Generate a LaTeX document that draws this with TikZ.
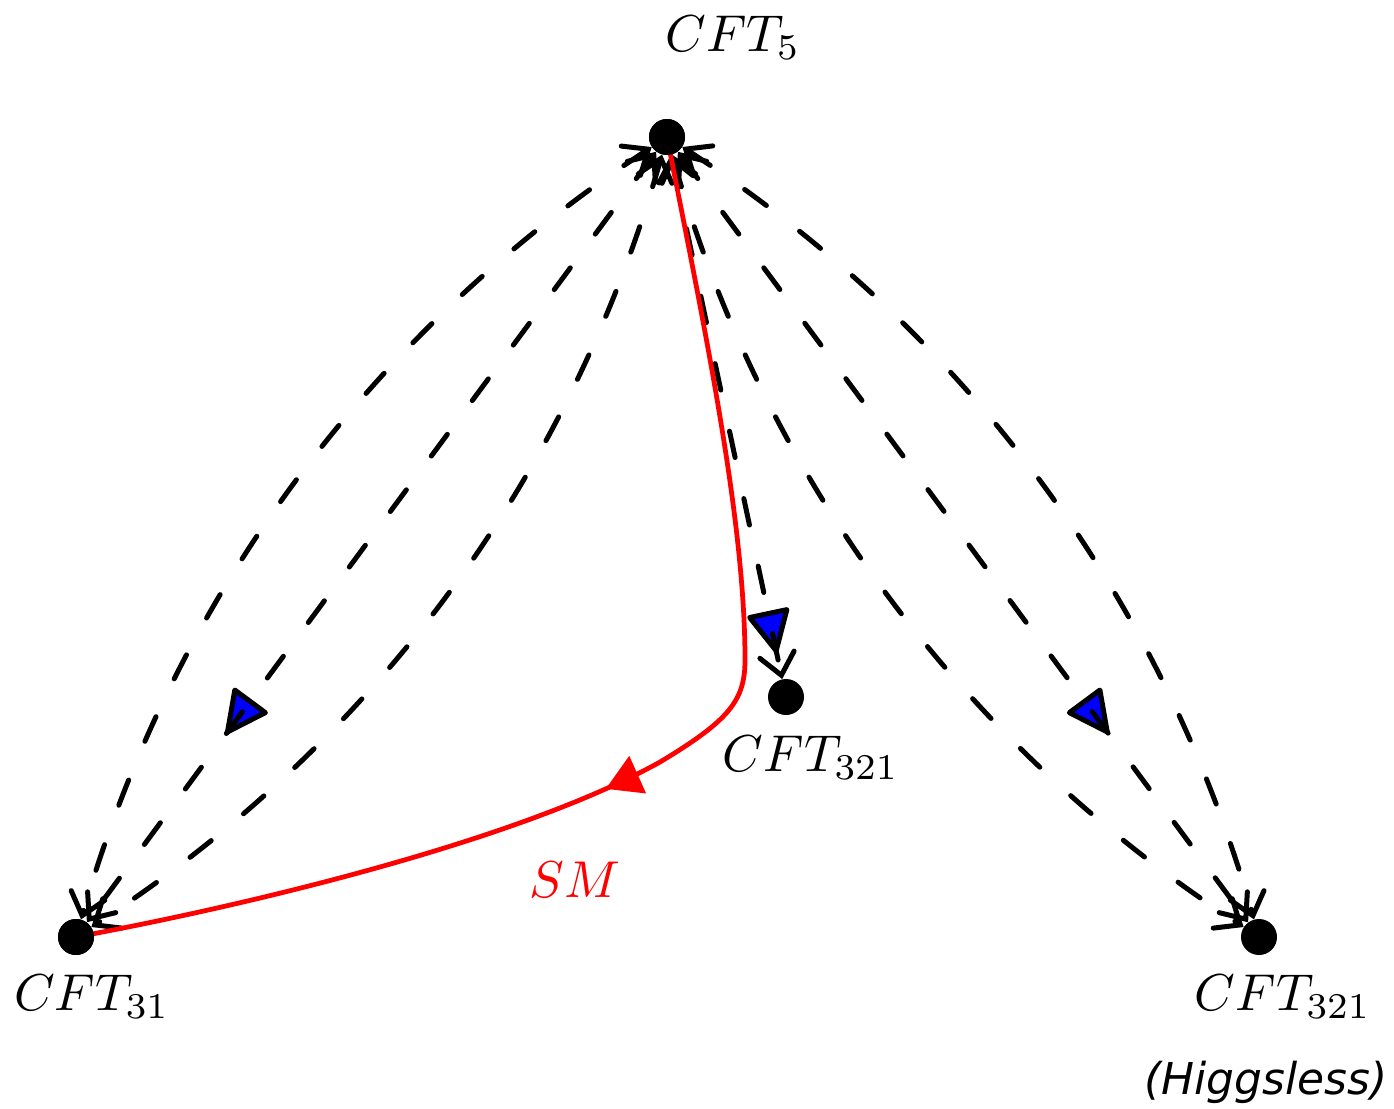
\documentclass[tikz,border=0pt]{standalone}
\usepackage{fontspec}
\newfontfamily\dejavu{DejaVu Sans}
\usetikzlibrary{arrows.meta,decorations.markings}
\newcommand{\cftlabel}[1]{\scalebox{2.95}{$#1$}}
\begin{document}
\begin{tikzpicture}[x=0.02cm,y=0.02cm,
  dot/.style={circle,fill=black,inner sep=0pt,minimum size=0.72cm},
  lbl/.style={inner sep=0pt},
  flow/.style={line width=0.1cm,line cap=round,dash pattern=on 0.54cm off 0.84cm,
    {Straight Barb[length=0.42cm,width=0.7cm,line cap=round]}-{Straight Barb[length=0.42cm,width=0.7cm,line cap=round]}},
  bluetip/.style={decorate,decoration={markings,
    mark=at position #1 with {\draw[black,fill=blue,line width=0.1cm,line join=round,solid] (0,0) -- (-0.76cm,0.38cm) -- (-0.76cm,-0.38cm) -- cycle;}}},
]
\useasboundingbox (0,0) rectangle (1394,-1109);
\node[dot] (c5) at (667,-137) {};
\node[dot] (c31) at (76,-937) {};
\node[dot] (cm) at (786,-697) {};
\node[dot] (cr) at (1259,-937) {};

\node[lbl] (l5) at (733,-38) {\cftlabel{CFT_5}};
\node[lbl] (l31) at (92,-997) {\cftlabel{CFT_{31}}};
\node[lbl] (lm) at (811,-758) {\cftlabel{CFT_{321}}};
\node[lbl] (lr) at (1283,-997) {\cftlabel{CFT_{321}}};
\node[inner sep=0pt,font=\dejavu\itshape\fontsize{25}{30}\selectfont] (hl) at (1266,-1082) {(Higgsless)};
\node[lbl,text=red] (sm) at (575,-880) {\cftlabel{SM}};

% blue direction marks
\path[bluetip=0.753] (c5) -- (c31);
\path[bluetip=0.753] (c5) -- (cr);
\path[bluetip=0.946] (c5) -- (cm);

% left family
\draw[flow] (c5) .. controls (371,-331) and (174,-597) .. (c31);
\draw[flow] (c5) -- (c31);
\draw[flow] (c5) .. controls (570,-478) and (373,-744) .. (c31);
% right family
\draw[flow] (c5) .. controls (964,-330) and (1162,-596) .. (cr);
\draw[flow] (c5) -- (cr);
\draw[flow] (c5) .. controls (764,-478) and (962,-744) .. (cr);
% middle
\draw[flow] (c5) -- (cm);

% SM flow
\draw[red,line width=0.095cm,postaction={decorate,decoration={markings,
   mark=at position 0.57 with {\arrow{Triangle[length=0.7cm,width=0.8cm]}}}}]
  (c5.center) .. controls (705,-330) and (745,-520) .. (745,-660)
  .. controls (745,-700) and (730,-720) .. (660,-762)
  .. controls (520,-840) and (250,-905) .. (c31.center);
\node[dot] at (c5) {};
\node[dot] at (c31) {};
\end{tikzpicture}
\end{document}
